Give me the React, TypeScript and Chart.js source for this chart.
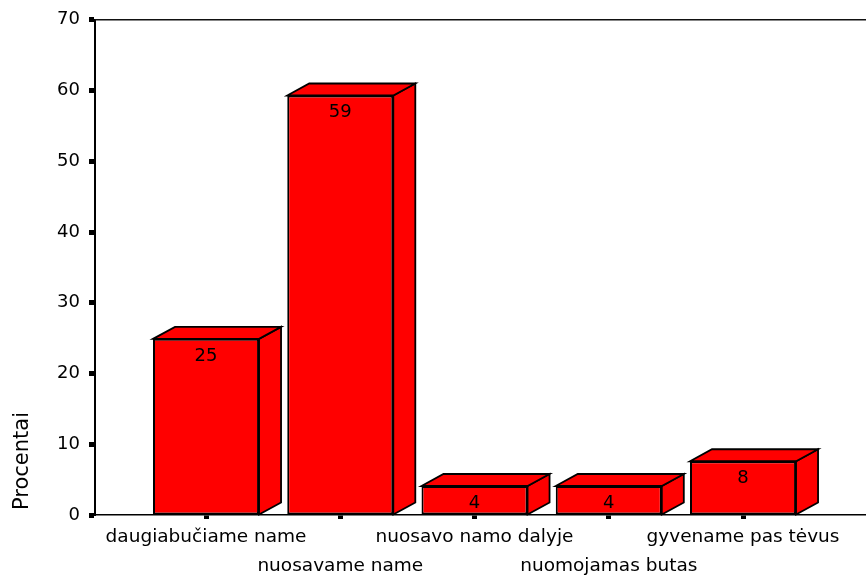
import { useEffect, useRef } from "react";
import { Chart, registerables } from "chart.js";

Chart.register(...registerables);

const categories = [
  "daugiabučiame name",
  "nuosavame name",
  "nuosavo namo dalyje",
  "nuomojamas butas",
  "gyvename pas tėvus",
];
const percentages = [24.9, 59.3, 4.1, 4.1, 7.6];
const yMin = 0;
const yMax = 70;
const yStep = 10;
const axisTitle = "Procentai";

const FONT = "'DejaVu Sans', sans-serif";
const RED = "#ff0000";
const DEPTH_X = 22;
const DEPTH_Y = 12;

const bar3d = {
  id: "bar3d",
  afterDatasetsDraw(chart: any) {
    const ctx = chart.ctx as CanvasRenderingContext2D;
    const meta = chart.getDatasetMeta(0);
    const area = chart.chartArea;
    const yTop = chart.scales.y.getPixelForValue(yMax);
    ctx.save();
    // top frame line
    ctx.strokeStyle = "#111";
    ctx.lineWidth = 1.5;
    ctx.beginPath();
    ctx.moveTo(area.left, yTop);
    ctx.lineTo(area.right, yTop);
    ctx.stroke();

    ctx.lineJoin = "miter";
    meta.data.forEach((el: any, i: number) => {
      const { x, y, base, width } = el.getProps(["x", "y", "base", "width"], true);
      const l = x - width / 2;
      const r = x + width / 2;
      ctx.fillStyle = RED;
      ctx.strokeStyle = "#000";
      ctx.lineWidth = 1.8;
      // side face
      ctx.beginPath();
      ctx.moveTo(r, y);
      ctx.lineTo(r + DEPTH_X, y - DEPTH_Y);
      ctx.lineTo(r + DEPTH_X, base - DEPTH_Y);
      ctx.lineTo(r, base);
      ctx.closePath();
      ctx.fill();
      ctx.stroke();
      // top face
      ctx.beginPath();
      ctx.moveTo(l, y);
      ctx.lineTo(l + DEPTH_X, y - DEPTH_Y);
      ctx.lineTo(r + DEPTH_X, y - DEPTH_Y);
      ctx.lineTo(r, y);
      ctx.closePath();
      ctx.fill();
      ctx.stroke();
      // value label
      ctx.fillStyle = "#000";
      ctx.font = `18px ${FONT}`;
      ctx.textAlign = "center";
      ctx.textBaseline = "middle";
      ctx.fillText(String(Math.round(percentages[i])), x, y + 17);
    });

    // y-axis title
    ctx.translate(23, 461);
    ctx.rotate(-Math.PI / 2);
    ctx.fillStyle = "#000";
    ctx.font = `21px ${FONT}`;
    ctx.textAlign = "center";
    ctx.textBaseline = "middle";
    ctx.fillText(axisTitle, 0, 0);
    ctx.restore();
  },
};

export default function App() {
  const ref = useRef<HTMLCanvasElement | null>(null);

  useEffect(() => {
    if (!ref.current) return;
    const chart = new Chart(ref.current, {
      type: "bar",
      data: {
        datasets: [
          {
            data: percentages.map((v, i) => ({ x: i, y: v })),
            backgroundColor: RED,
            borderColor: "#000",
            borderWidth: 2,
            borderSkipped: false,
            barPercentage: 0.79,
            categoryPercentage: 1,
          } as any,
        ],
      },
      options: {
        responsive: false,
        animation: false,
        events: [],
        layout: { padding: { top: 18, right: 0, left: 0, bottom: 0 } },
        plugins: {
          legend: { display: false },
          tooltip: { enabled: false },
        },
        scales: {
          x: {
            type: "linear",
            offset: false,
            min: -0.827,
            max: 4.916,
            afterBuildTicks: (axis: any) => {
              axis.ticks = categories.map((_, i) => ({ value: i }));
            },
            afterFit: (axis: any) => {
              axis.height = 62;
            },
            border: { display: true, color: "#000", width: 1.5 },
            grid: {
              display: true,
              drawOnChartArea: false,
              drawTicks: true,
              tickLength: 4,
              tickWidth: 5,
              tickColor: "#000",
              offset: false,
            },
            ticks: {
              autoSkip: false,
              maxRotation: 0,
              minRotation: 0,
              padding: 4,
              color: "#000",
              font: { family: FONT, size: 18.5, lineHeight: 1.55 },
              callback: (value: any) => {
                const i = Math.round(Number(value));
                const lbl = categories[i] ?? "";
                return i % 2 === 0 ? lbl : ["", lbl];
              },
            },
          },
          y: {
            type: "linear",
            min: yMin,
            max: yMax,
            afterFit: (axis: any) => {
              axis.width = 95;
            },
            border: { display: true, color: "#000", width: 2 },
            grid: {
              display: true,
              drawOnChartArea: false,
              drawTicks: true,
              tickLength: 6,
              tickWidth: 5,
              tickColor: "#000",
            },
            ticks: {
              stepSize: yStep,
              padding: 9,
              color: "#000",
              font: { family: FONT, size: 18 },
            },
          },
        },
      },
      plugins: [bar3d],
    });
    return () => chart.destroy();
  }, []);

  return (
    <div style={{ position: "absolute", left: 0, top: 0, width: 866, height: 577, background: "#fff" }}>
      <canvas ref={ref} width={866} height={577} />
    </div>
  );
}
